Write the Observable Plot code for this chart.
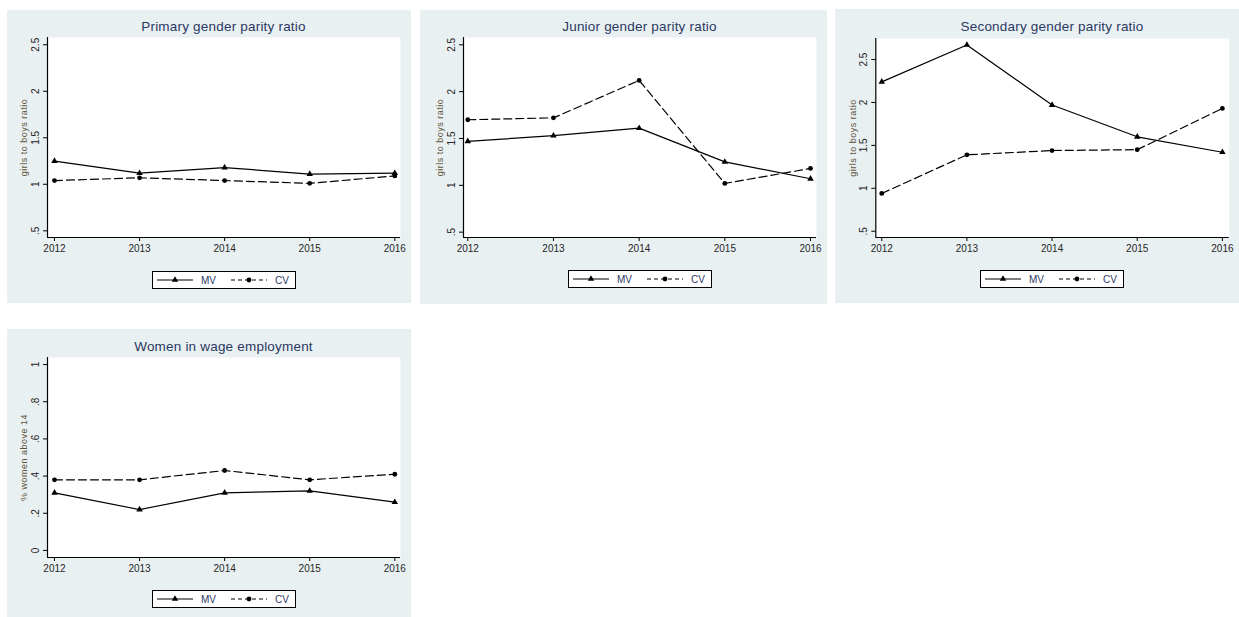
<!DOCTYPE html>
<html>
<head>
<meta charset="utf-8">
<script src="https://cdn.jsdelivr.net/npm/d3@7"></script>
<script src="https://cdn.jsdelivr.net/npm/@observablehq/plot@0.6"></script>
<style>
  html, body { margin: 0; padding: 0; background: #ffffff; }
  body { font-family: "Liberation Sans", Arial, sans-serif; }
  #root { position: relative; width: 1239px; height: 617px; overflow: hidden; background: #ffffff; }
  .panel { position: absolute; background: #e9f0f2; }
  .ptitle { position: absolute; transform: translate(-50%, -50%); white-space: nowrap;
            font-size: 13.5px; color: #2b3863; letter-spacing: 0.2px; }
  .psvg { position: absolute; left: 0; }
  .legend { position: absolute; width: 142px; height: 16px; background: #ffffff; border: 1px solid #000; }
  .legend svg { position: absolute; left: 0; top: 0; overflow: visible; }
</style>
</head>
<body>
<div id="root"></div>
<script>
// ---------- data ----------
const years = [2012, 2013, 2014, 2015, 2016];
const seriesNames = ["MV", "CV"];

const primaryMV   = [1.25, 1.12, 1.18, 1.11, 1.12];
const primaryCV   = [1.04, 1.07, 1.04, 1.01, 1.09];
const juniorMV    = [1.47, 1.53, 1.61, 1.25, 1.07];
const juniorCV    = [1.70, 1.72, 2.12, 1.02, 1.18];
const secondaryMV = [2.24, 2.67, 1.97, 1.60, 1.42];
const secondaryCV = [0.94, 1.39, 1.44, 1.45, 1.93];
const wageMV      = [0.31, 0.22, 0.31, 0.32, 0.26];
const wageCV      = [0.38, 0.38, 0.43, 0.38, 0.41];

const titles = ["Primary gender parity ratio", "Junior gender parity ratio",
                "Secondary gender parity ratio", "Women in wage employment"];
const yLabels = ["girls to boys ratio", "girls to boys ratio", "girls to boys ratio", "% women above 14"];
const ratioTicks = [0.5, 1, 1.5, 2, 2.5];
const shareTicks = [0, 0.2, 0.4, 0.6, 0.8, 1];

// ---------- layout ----------
const panels = [
  {left: 7,   top: 10,  w: 404, h: 293, mL: 40,   mR: 11,   plotTop: 27,   plotH: 200, titleY: 15.7, legTop: 261,
   xDomain: [2011.918, 2016.067], yDomain: [0.428, 2.578], ticks: ratioTicks, mv: primaryMV, cv: primaryCV},
  {left: 420, top: 10,  w: 407, h: 294, mL: 43,   mR: 11,   plotTop: 27,   plotH: 200, titleY: 15.7, legTop: 260,
   xDomain: [2011.95, 2016.07],   yDomain: [0.443, 2.578], ticks: ratioTicks, mv: juniorMV, cv: juniorCV},
  {left: 835, top: 9,   w: 404, h: 294, mL: 40.3, mR: 10.3, plotTop: 29,   plotH: 199, titleY: 16.7, legTop: 261,
   xDomain: [2011.93, 2016.08],   yDomain: [0.427, 2.745], ticks: ratioTicks, mv: secondaryMV, cv: secondaryCV},
  {left: 7,   top: 329, w: 404, h: 288, mL: 40,   mR: 11,   plotTop: 28.3, plotH: 200, titleY: 16.7, legTop: 261,
   xDomain: [2011.918, 2016.067], yDomain: [-0.038, 1.038], ticks: shareTicks, mv: wageMV, cv: wageCV}
];

const fmtY = d => (d > 0 && d < 1) ? String(+d.toFixed(2)).replace(/^0/, "") : String(d);

const root = document.getElementById("root");

panels.forEach((p, i) => {
  const div = document.createElement("div");
  div.className = "panel";
  Object.assign(div.style, {left: p.left + "px", top: p.top + "px", width: p.w + "px", height: p.h + "px"});
  root.appendChild(div);

  const plotCenter = p.mL + (p.w - p.mL - p.mR) / 2;

  const t = document.createElement("div");
  t.className = "ptitle";
  t.textContent = titles[i];
  t.style.left = plotCenter + "px";
  t.style.top = p.titleY + "px";
  div.appendChild(t);

  const rows = [];
  years.forEach((yr, k) => {
    rows.push({year: yr, value: p.mv[k], series: seriesNames[0]});
    rows.push({year: yr, value: p.cv[k], series: seriesNames[1]});
  });
  const mvRows = rows.filter(r => r.series === "MV");
  const cvRows = rows.filter(r => r.series === "CV");

  const mTop = 5, mBottom = 22;
  const svg = Plot.plot({
    width: p.w,
    height: mTop + p.plotH + mBottom,
    marginTop: mTop,
    marginBottom: mBottom,
    marginLeft: p.mL,
    marginRight: p.mR,
    style: {background: "transparent", fontFamily: "'Liberation Sans', Arial, sans-serif", fontSize: "10px", color: "#262626", overflow: "visible"},
    x: {type: "linear", domain: p.xDomain},
    y: {type: "linear", domain: p.yDomain},
    marks: [
      Plot.frame({fill: "white", stroke: "none"}),
      Plot.ruleX([p.xDomain[0]], {stroke: "black", strokeWidth: 1.2}),
      Plot.ruleY([p.yDomain[0]], {stroke: "black", strokeWidth: 1.2}),
      Plot.axisY({ticks: p.ticks, tickFormat: fmtY, tickSize: 4, tickRotate: -90, label: null, fontSize: 10, stroke: "black"}),
      Plot.axisX({ticks: years, tickFormat: d => String(d), tickSize: 4, tickPadding: 3, label: null, fontSize: 10, stroke: "black"}),
      Plot.text([yLabels[i]], {frameAnchor: "left", textAnchor: "middle", rotate: -90, dx: -23, fontSize: 9, fill: "#5e5238", text: d => d}),
      Plot.line(mvRows, {x: "year", y: "value", stroke: "black", strokeWidth: 1.2}),
      Plot.line(cvRows, {x: "year", y: "value", stroke: "black", strokeWidth: 1.2, strokeDasharray: "8,4"}),
      Plot.dot(mvRows, {x: "year", y: "value", symbol: "triangle", r: 2.4, fill: "black", stroke: "none"}),
      Plot.dot(cvRows, {x: "year", y: "value", symbol: "circle", r: 2.4, fill: "black", stroke: "none"})
    ]
  });
  svg.classList.add("psvg");
  svg.style.top = (p.plotTop - mTop) + "px";
  svg.querySelectorAll('g[aria-label="text"] text').forEach(el => el.style.letterSpacing = "0.5px");
  div.appendChild(svg);

  // legend
  const leg = document.createElement("div");
  leg.className = "legend";
  leg.style.left = (plotCenter - 72) + "px";
  leg.style.top = p.legTop + "px";
  const ns = "http://www.w3.org/2000/svg";
  const ls = document.createElementNS(ns, "svg");
  ls.setAttribute("width", 142);
  ls.setAttribute("height", 16);
  const items = [
    {name: seriesNames[0], x0: 4, dash: null, sym: "triangle"},
    {name: seriesNames[1], x0: 78, dash: "4,3", sym: "circle"}
  ];
  items.forEach(it => {
    const ln = document.createElementNS(ns, "line");
    ln.setAttribute("x1", it.x0); ln.setAttribute("x2", it.x0 + 36);
    ln.setAttribute("y1", 8); ln.setAttribute("y2", 8);
    ln.setAttribute("stroke", "black"); ln.setAttribute("stroke-width", 1.2);
    if (it.dash) ln.setAttribute("stroke-dasharray", it.dash);
    ls.appendChild(ln);
    const cx = it.x0 + 18;
    if (it.sym === "triangle") {
      const pg = document.createElementNS(ns, "path");
      pg.setAttribute("d", d3.symbol(d3.symbolTriangle, Math.PI * 2.4 * 2.4)());
      pg.setAttribute("transform", `translate(${cx},8)`);
      pg.setAttribute("fill", "black");
      ls.appendChild(pg);
    } else {
      const c = document.createElementNS(ns, "circle");
      c.setAttribute("cx", cx); c.setAttribute("cy", 8); c.setAttribute("r", 2.4);
      c.setAttribute("fill", "black");
      ls.appendChild(c);
    }
    const tx = document.createElementNS(ns, "text");
    tx.setAttribute("x", it.x0 + 44); tx.setAttribute("y", 11.5);
    tx.setAttribute("font-size", "10px");
    tx.setAttribute("font-family", "'Liberation Sans', Arial, sans-serif");
    tx.setAttribute("fill", "#2b3863");
    tx.textContent = it.name;
    ls.appendChild(tx);
  });
  leg.appendChild(ls);
  div.appendChild(leg);
});
</script>
</body>
</html>
